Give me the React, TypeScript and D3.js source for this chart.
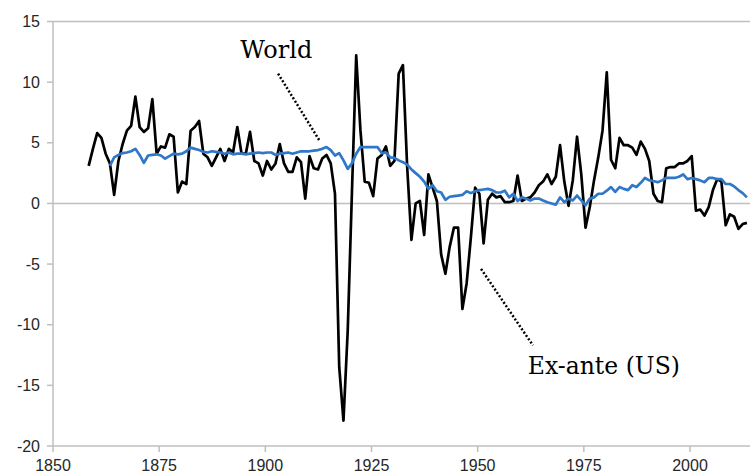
import React from "react";
import * as d3 from "d3";

const W = 750;
const H = 475;

const exAnteStart = 1858;
const exAnteUS = [
  3.1, 4.5, 5.8, 5.4, 4.1, 3.3, 0.7, 3.5, 4.9, 6.0, 6.4, 8.8, 6.3, 5.9, 6.2, 8.6, 4.1, 4.7, 4.6, 5.7,
  5.5, 0.9, 1.8, 1.6, 6.0, 6.3, 6.8, 4.1, 3.8, 3.1, 3.8, 4.5, 3.5, 4.5, 4.2, 6.3, 4.1, 4.1, 5.9, 3.5,
  3.3, 2.3, 3.5, 2.8, 3.3, 4.9, 3.3, 2.6, 2.6, 3.8, 3.4, 0.4, 3.9, 2.9, 2.8, 3.7, 4.0, 3.3, 0.8, -13.5,
  -17.9, -10.5, 1.0, 12.2, 6.0, 1.8, 1.7, 0.6, 3.7, 4.0, 4.7, 3.1, 3.5, 10.7, 11.4, 3.0, -3.0, 0.0, 0.2, -2.6,
  2.4, 1.3, 0.2, -4.2, -5.8, -3.6, -2.0, -2.0, -8.7, -6.6, -2.8, 1.3, 0.8, -3.3, 0.3, 0.8, 0.5, 0.6, 0.1, 0.1,
  0.2, 2.3, 0.2, 0.4, 0.5, 0.9, 1.5, 1.8, 2.4, 1.6, 2.2, 4.8, 1.8, -0.2, 1.9, 5.5, 2.4, -2.0, -0.3, 1.9,
  3.8, 6.0, 10.8, 3.6, 2.9, 5.4, 4.8, 4.8, 4.6, 4.0, 5.1, 4.5, 3.5, 0.8, 0.2, 0.1, 2.9, 3.0, 3.0, 3.3,
  3.3, 3.5, 3.9, -0.6, -0.5, -1.0, -0.3, 1.1, 2.0, 1.8, -1.8, -0.9, -1.1, -2.1, -1.7, -1.6,
];

const worldStart = 1863;
const world = [
  3.1, 3.8, 4.0, 4.15, 4.2, 4.3, 4.5, 4.0, 3.35, 3.95, 4.0, 4.05, 3.95, 3.7, 3.9, 4.1, 4.05, 4.1, 4.3, 4.6,
  4.5, 4.4, 4.25, 4.2, 4.3, 4.25, 4.2, 4.1, 4.2, 4.05, 4.1, 4.1, 4.05, 4.1, 4.15, 4.2, 4.15, 4.2, 4.2, 4.0,
  4.1, 4.15, 4.2, 4.1, 4.2, 4.3, 4.3, 4.3, 4.35, 4.4, 4.5, 4.65, 4.4, 3.95, 4.15, 3.55, 2.85, 3.3, 4.1, 4.65,
  4.65, 4.65, 4.65, 4.65, 4.15, 4.2, 3.8, 3.75, 3.55, 3.4, 3.2, 2.8, 2.5, 2.2, 1.8, 1.2, 1.5, 1.0, 0.9, 0.3,
  0.55, 0.6, 0.65, 0.7, 1.0, 0.85, 1.0, 1.1, 1.15, 1.2, 1.1, 0.9, 0.9, 1.05, 0.5, 0.8, 0.2, 0.5, 0.4, 0.25,
  0.4, 0.4, 0.25, 0.1, 0.0, -0.1, 0.5, 0.1, 0.4, 0.25, 0.65, 0.25, -0.15, 0.4, 0.5, 0.8, 0.8, 1.05, 1.35, 0.95,
  1.35, 1.2, 1.1, 1.5, 1.35, 1.7, 2.1, 1.9, 1.85, 1.75, 1.9, 2.1, 2.1, 2.1, 2.2, 2.4, 2.0, 2.1, 2.0, 1.9,
  1.75, 2.1, 2.1, 2.0, 2.0, 1.6, 1.6, 1.4, 1.1, 0.85, 0.5,
];

const yTicks = [15, 10, 5, 0, -5, -10, -15, -20];
const xTicks = [1850, 1875, 1900, 1925, 1950, 1975, 2000];

// annotation anchors in data units (year, value)
const labelTexts = ["World", "Ex-ante (US)"];
const labelAt = [
  [1894.1, 12.0],
  [1961.8, -14.1],
];
const leaderFrom = [
  [1903.0, 10.7],
  [1950.8, -5.4],
];
const leaderTo = [
  [1912.9, 5.1],
  [1963.0, -11.7],
];

export default function App() {
  const x = d3.scaleLinear().domain([1850, 2000]).range([53, 690]);
  const y = d3.scaleLinear().domain([-20, 15]).range([446, 21.5]);
  // points sit at mid-year on the date axis
  const mid = 0.4;

  const line = d3
    .line<[number, number]>()
    .x((d) => x(d[0] + mid))
    .y((d) => y(d[1]));

  const blackPts = exAnteUS.map((v, i) => [exAnteStart + i, v] as [number, number]);
  const bluePts = world.map((v, i) => [worldStart + i, v] as [number, number]);

  const gray = "#bfbfbf";
  const x0 = x(1850);

  return (
    <svg width={W} height={H} style={{ display: "block", position: "absolute", left: 0, top: 0 }}>
      <rect width={W} height={H} fill="#fff" />
      {[15, 0, -20].map((v) => (
        <line key={v} x1={x0} x2={W} y1={y(v)} y2={y(v)} stroke={gray} strokeWidth={1.5} />
      ))}
      <line x1={x0} x2={x0} y1={y(15)} y2={y(-20)} stroke={gray} strokeWidth={1.5} />
      {yTicks.map((t) => (
        <g key={t}>
          <line x1={x0 - 6} x2={x0} y1={y(t)} y2={y(t)} stroke={gray} strokeWidth={1.5} />
          <text
            x={40}
            y={y(t)}
            dy="0.35em"
            textAnchor="end"
            fontFamily="Liberation Sans, Arial, sans-serif"
            fontSize={16}
            fill="#262626"
          >
            {t}
          </text>
        </g>
      ))}
      {xTicks.map((t) => (
        <g key={t}>
          <line x1={x(t)} x2={x(t)} y1={y(-20)} y2={y(-20) + 6} stroke={gray} strokeWidth={1.5} />
          <text
            x={x(t)}
            y={471}
            textAnchor="middle"
            fontFamily="Liberation Sans, Arial, sans-serif"
            fontSize={16}
            fill="#262626"
          >
            {t}
          </text>
        </g>
      ))}
      <path d={line(blackPts) || ""} fill="none" stroke="#000" strokeWidth={2.7} strokeLinejoin="round" />
      <path d={line(bluePts) || ""} fill="none" stroke="#2f77c8" strokeWidth={2.7} strokeLinejoin="round" />
      {labelTexts.map((t, i) => (
        <g key={t}>
          <text
            x={x(labelAt[i][0])}
            y={y(labelAt[i][1])}
            fontFamily="DejaVu Serif, serif"
            fontSize={i === 0 ? 24 : 23.5}
            fill="#000"
          >
            {t}
          </text>
          <line
            x1={x(leaderFrom[i][0])}
            y1={y(leaderFrom[i][1])}
            x2={x(leaderTo[i][0])}
            y2={y(leaderTo[i][1])}
            stroke="#000"
            strokeWidth={2.5}
            strokeDasharray="2,2"
          />
        </g>
      ))}
    </svg>
  );
}
